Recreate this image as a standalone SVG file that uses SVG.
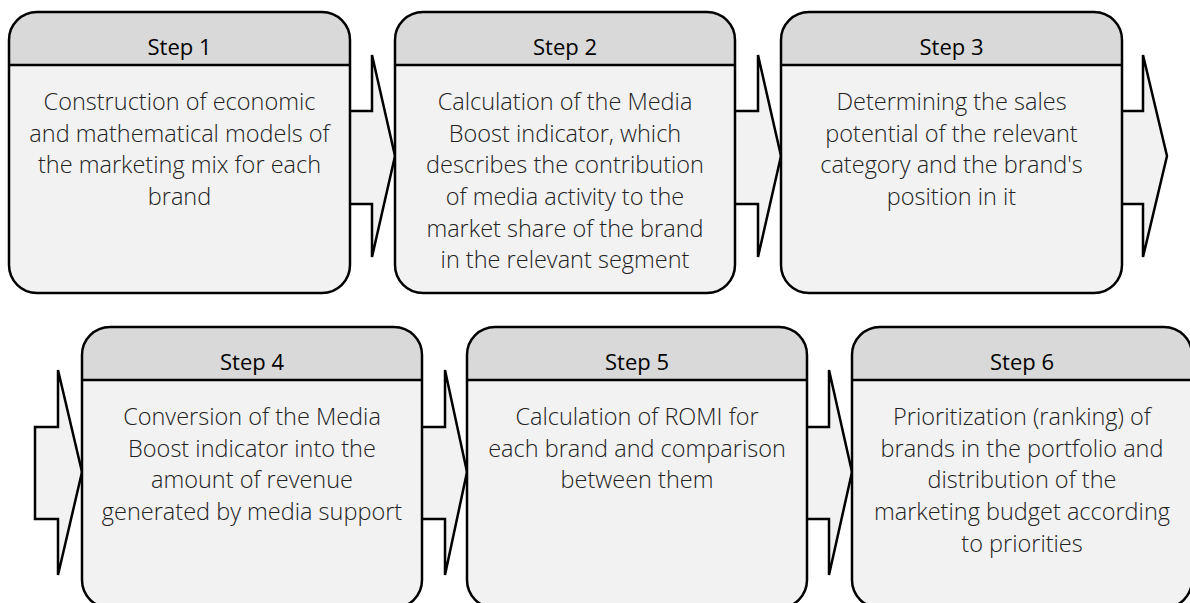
<svg xmlns="http://www.w3.org/2000/svg" width="1190" height="603" viewBox="0 0 1190 603">
<style>
.arrow{fill:#f2f2f2;stroke:#000;stroke-width:2.5;stroke-linejoin:miter}
.body{fill:#f2f2f2}
.head{fill:#d9d9d9}
.outline{fill:none;stroke:#000;stroke-width:2.5}
.sep{stroke:#000;stroke-width:2.5}
.title{font-family:"Open Sans","Liberation Sans",sans-serif;font-size:22px;fill:#000;text-anchor:middle}
.txt{font-family:"Open Sans","Liberation Sans",sans-serif;font-size:23.5px;font-weight:300;fill:#222;text-anchor:middle}
</style>
<rect width="1190" height="603" fill="#fff"/>
<g id="connectors">
<polygon class="arrow" points="340,111 372,111 372,55 395,156 372,257 372,204 340,204"/>
<polygon class="arrow" points="725,111 758,111 758,55 781,156 758,257 758,204 725,204"/>
<polygon class="arrow" points="1112,111 1143,111 1143,55 1167,156 1143,257 1143,204 1112,204"/>
<polygon class="arrow" points="35,427 58,427 58,370 82,472 58,575 58,519 35,519"/>
<polygon class="arrow" points="412,427 445,427 445,370 467,472 445,575 445,519 412,519"/>
<polygon class="arrow" points="797,427 829,427 829,370 852,472 829,575 829,519 797,519"/>
</g>
<g id="step1">
<rect class="body" x="9" y="12" width="341" height="281" rx="28"/>
<path class="head" d="M9,65 V40 A28,28 0 0 1 37,12 H322 A28,28 0 0 1 350,40 V65 Z"/>
<line class="sep" x1="9" y1="65" x2="350" y2="65"/>
<rect class="outline" x="9" y="12" width="341" height="281" rx="28"/>
<text class="title" x="179.5" y="55">Step 1</text>
<text class="txt" x="179.5" y="110">Construction of economic</text>
<text class="txt" x="179.5" y="141.7">and mathematical models of</text>
<text class="txt" x="179.5" y="173.3">the marketing mix for each</text>
<text class="txt" x="179.5" y="205">brand</text>
</g>
<g id="step2">
<rect class="body" x="395" y="12" width="340" height="281" rx="28"/>
<path class="head" d="M395,65 V40 A28,28 0 0 1 423,12 H707 A28,28 0 0 1 735,40 V65 Z"/>
<line class="sep" x1="395" y1="65" x2="735" y2="65"/>
<rect class="outline" x="395" y="12" width="340" height="281" rx="28"/>
<text class="title" x="565" y="55">Step 2</text>
<text class="txt" x="565" y="110">Calculation of the Media</text>
<text class="txt" x="565" y="141.7">Boost indicator, which</text>
<text class="txt" x="565" y="173.3">describes the contribution</text>
<text class="txt" x="565" y="205">of media activity to the</text>
<text class="txt" x="565" y="236.7">market share of the brand</text>
<text class="txt" x="565" y="268.3">in the relevant segment</text>
</g>
<g id="step3">
<rect class="body" x="781" y="12" width="341" height="281" rx="28"/>
<path class="head" d="M781,65 V40 A28,28 0 0 1 809,12 H1094 A28,28 0 0 1 1122,40 V65 Z"/>
<line class="sep" x1="781" y1="65" x2="1122" y2="65"/>
<rect class="outline" x="781" y="12" width="341" height="281" rx="28"/>
<text class="title" x="951.5" y="55">Step 3</text>
<text class="txt" x="951.5" y="110">Determining the sales</text>
<text class="txt" x="951.5" y="141.7">potential of the relevant</text>
<text class="txt" x="951.5" y="173.3">category and the brand's</text>
<text class="txt" x="951.5" y="205">position in it</text>
</g>
<g id="step4">
<rect class="body" x="82" y="327" width="340" height="281" rx="28"/>
<path class="head" d="M82,380 V355 A28,28 0 0 1 110,327 H394 A28,28 0 0 1 422,355 V380 Z"/>
<line class="sep" x1="82" y1="380" x2="422" y2="380"/>
<rect class="outline" x="82" y="327" width="340" height="281" rx="28"/>
<text class="title" x="252" y="370">Step 4</text>
<text class="txt" x="252" y="425">Conversion of the Media</text>
<text class="txt" x="252" y="456.7">Boost indicator into the</text>
<text class="txt" x="252" y="488.3">amount of revenue</text>
<text class="txt" x="252" y="520">generated by media support</text>
</g>
<g id="step5">
<rect class="body" x="467" y="327" width="340" height="281" rx="28"/>
<path class="head" d="M467,380 V355 A28,28 0 0 1 495,327 H779 A28,28 0 0 1 807,355 V380 Z"/>
<line class="sep" x1="467" y1="380" x2="807" y2="380"/>
<rect class="outline" x="467" y="327" width="340" height="281" rx="28"/>
<text class="title" x="637" y="370">Step 5</text>
<text class="txt" x="637" y="425">Calculation of ROMI for</text>
<text class="txt" x="637" y="456.7">each brand and comparison</text>
<text class="txt" x="637" y="488.3">between them</text>
</g>
<g id="step6">
<rect class="body" x="852" y="327" width="340" height="281" rx="28"/>
<path class="head" d="M852,380 V355 A28,28 0 0 1 880,327 H1164 A28,28 0 0 1 1192,355 V380 Z"/>
<line class="sep" x1="852" y1="380" x2="1192" y2="380"/>
<rect class="outline" x="852" y="327" width="340" height="281" rx="28"/>
<text class="title" x="1022" y="370">Step 6</text>
<text class="txt" x="1022" y="425">Prioritization (ranking) of</text>
<text class="txt" x="1022" y="456.7">brands in the portfolio and</text>
<text class="txt" x="1022" y="488.3">distribution of the</text>
<text class="txt" x="1022" y="520">marketing budget according</text>
<text class="txt" x="1022" y="551.7">to priorities</text>
</g>
</svg>
